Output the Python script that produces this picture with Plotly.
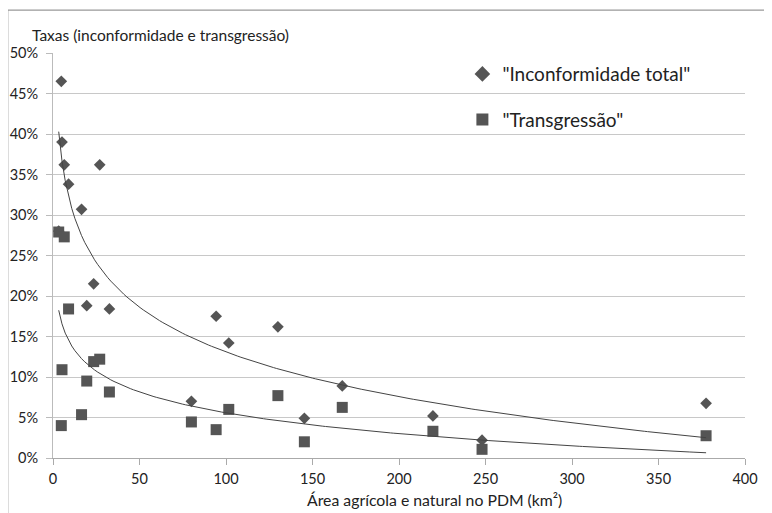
import numpy as np
import plotly.graph_objects as go

# Data
area_km2 = [3.3, 4.8, 5.2, 6.5, 9.0, 16.5, 19.5, 23.5, 27.0, 32.6,
            80.0, 94.3, 101.6, 130.0, 145.3, 167.2, 219.6, 248.0, 377.5]
inconformidade = [0.280, 0.465, 0.390, 0.362, 0.338, 0.307, 0.188, 0.215, 0.362, 0.184,
                  0.070, 0.175, 0.142, 0.162, 0.049, 0.089, 0.052, 0.022, 0.0675]
transgressao = [0.279, 0.040, 0.109, 0.273, 0.184, 0.0535, 0.095, 0.119, 0.122, 0.0815,
                0.0445, 0.035, 0.060, 0.077, 0.020, 0.0625, 0.033, 0.0107, 0.0275]

x_ticks = [0, 50, 100, 150, 200, 250, 300, 350, 400]
y_ticks = [0, 0.05, 0.10, 0.15, 0.20, 0.25, 0.30, 0.35, 0.40, 0.45, 0.50]

FONT = "Lato"
MARK = "#555555"
TXT = "#222222"

def log_trend(xs, ys):
    lx = np.log(np.array(xs))
    b, a = np.polyfit(lx, np.array(ys), 1)
    xx = np.linspace(min(xs), max(xs), 200)
    return xx, a + b * np.log(xx)

fig = go.Figure()

fig.add_trace(go.Scatter(
    x=area_km2, y=inconformidade, mode="markers",
    name='"Inconformidade total"', legendgroup="a",
    marker=dict(symbol="diamond", size=9, color=MARK)))
fig.add_trace(go.Scatter(
    x=area_km2, y=transgressao, mode="markers",
    name='"Transgressão"', legendgroup="b",
    marker=dict(symbol="square", size=11, color=MARK)))

for ys in (inconformidade, transgressao):
    xx, yy = log_trend(area_km2, ys)
    fig.add_trace(go.Scatter(x=xx, y=yy, mode="lines", showlegend=False,
                             line=dict(color="#444444", width=1), hoverinfo="skip"))

fig.update_layout(
    width=772, height=513,
    margin=dict(l=45, r=35, t=45, b=63),
    paper_bgcolor="white", plot_bgcolor="white",
    font=dict(family=FONT, size=14, color=TXT),
    showlegend=True,
    legend=dict(x=0.5916, y=0.995, xanchor="left", yanchor="top",
                bgcolor="rgba(0,0,0,0)", font=dict(size=19, family=FONT, color=TXT),
                traceorder="grouped", tracegroupgap=18, itemsizing="constant"),
    xaxis=dict(range=[0, 400], tickvals=x_ticks, ticks="outside", ticklen=6,
               tickcolor="#aaaaaa", showgrid=False, showline=True, linecolor="#aaaaaa",
               zeroline=False, tickfont=dict(size=14.5), ticklabelstandoff=2,
               automargin=False),
    yaxis=dict(range=[0, 0.5], tickvals=y_ticks, tickformat=".0%", ticks="outside",
               ticklen=6, tickcolor="#bbbbbb", showgrid=True, gridcolor="#c8c8c8",
               showline=True, linecolor="#bbbbbb", zeroline=False,
               tickfont=dict(size=14.5), ticklabelstandoff=5, automargin=False),
    annotations=[
        dict(text="Taxas (inconformidade e transgressão)", xref="paper", yref="paper",
             x=-0.0334, y=1.044, xanchor="left", yanchor="middle", showarrow=False,
             font=dict(size=15.5, family=FONT, color=TXT)),
        dict(text="Área agrícola e natural no PDM (km²)", xref="paper", yref="paper",
             x=0.551, y=-0.1037, xanchor="center", yanchor="middle", showarrow=False,
             font=dict(size=15.8, family=FONT, color=TXT)),
    ],
    shapes=[dict(type="rect", xref="paper", yref="paper",
                 x0=-0.0654, x1=1.2, y0=-0.3, y1=1.106,
                 line=dict(color="#999999", width=1.2), layer="below")],
)

fig.write_html("out.html")
